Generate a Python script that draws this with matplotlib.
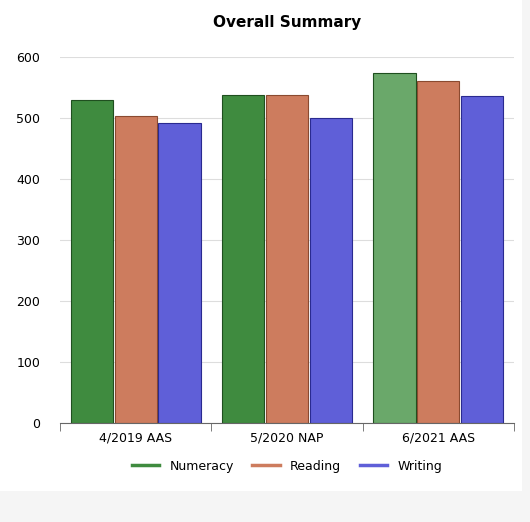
import numpy as np
import matplotlib.pyplot as plt
from matplotlib.lines import Line2D

groups = ["4/2019 AAS", "5/2020 NAP", "6/2021 AAS"]
numeracy = [530, 539, 574]
reading = [503, 539, 561]
writing = [493, 500, 536]

fig = plt.figure(figsize=(5.30, 5.22), dpi=100)
fig.patch.set_facecolor("#f5f5f5")
ax = fig.add_axes([0.113, 0.19, 0.857, 0.70])
fig.add_artist(plt.Rectangle((0, 0.06), 0.985, 0.94, transform=fig.transFigure,
                             facecolor="white", zorder=-1))

x = np.arange(len(groups))
w = 0.29
num_colors = ["#3f8b3f", "#3f8b3f", "#6aa86a"]
ax.bar(x - w, numeracy, w * 0.96, color=num_colors, edgecolor="#1f4f1f", linewidth=0.8)
ax.bar(x, reading, w * 0.96, color="#cd7c5e", edgecolor="#8a4a30", linewidth=0.8)
ax.bar(x + w, writing, w * 0.96, color="#5f5fd8", edgecolor="#2a2a90", linewidth=0.8)

ax.set_xlim(-0.5, 2.5)
ax.set_ylim(0, 600)
ax.set_yticks(range(0, 601, 100))
ax.set_xticks(x)
ax.set_xticklabels(groups)
ax.set_xticks([-0.5, 0.5, 1.5, 2.5], minor=True)
ax.tick_params(axis="x", which="major", length=0, labelsize=9, pad=6)
ax.tick_params(axis="x", which="minor", length=6, color="#666666")
ax.tick_params(axis="y", length=0, labelsize=9, pad=14)
ax.grid(axis="y", color="#dddddd", linewidth=0.8)
ax.set_axisbelow(True)
for s in ["top", "right", "left"]:
    ax.spines[s].set_visible(False)
ax.spines["bottom"].set_color("#666666")
ax.set_title("Overall Summary", fontsize=11, fontweight="bold", pad=22)

handles = [Line2D([], [], color=c, linewidth=2.5) for c in ["#3f8b3f", "#cd7c5e", "#5f5fd8"]]
ax.legend(handles, ["Numeracy", "Reading", "Writing"], loc="upper center",
          bbox_to_anchor=(0.5, -0.07), ncol=3, frameon=False, fontsize=9,
          handlelength=2.2, columnspacing=1.5)

fig.savefig("out.png", dpi=100)
